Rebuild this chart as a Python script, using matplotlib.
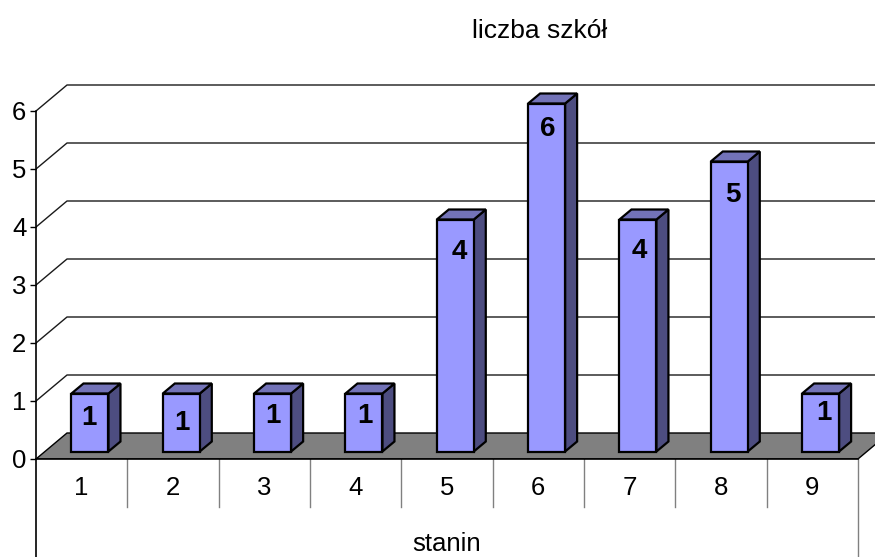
import matplotlib
matplotlib.use('Agg')
import matplotlib.pyplot as plt
from matplotlib.patches import Polygon

plt.rcParams['font.family'] = ['Liberation Sans', 'DejaVu Sans']

stanin = ['1', '2', '3', '4', '5', '6', '7', '8', '9']
liczba_szkol = [1, 1, 1, 1, 4, 6, 4, 5, 1]
y_ticks = [0, 1, 2, 3, 4, 5, 6]

# label placement in the source is uneven, nudge in pixels (right, down from bar top)
label_dx = [-1, 0.5, 0, 1, 4, 1, 1, 4, 3.5]
label_dy = [24.5, 29.5, 22.5, 22.5, 32.5, 25.5, 31.5, 34, 19.5]

W, H = 875, 557
LEFT, BASE = 36, 459     # pixel position of the front axis corner
CAT_W = 91.33            # pixels per category
UNIT = 58.0              # pixels per value
FLOOR_DX, FLOOR_DY = 31, 26
BAR_W = 37
BAR_DX, BAR_DY = 12, 10
BAR_SHIFT, BAR_LIFT = 8.3, 7.5

fig = plt.figure(figsize=(W / 100, H / 100), dpi=100)
ax = fig.add_axes([LEFT / W, (H - BASE) / H, (W - LEFT) / W, BASE / H])
ax.set_xlim(0, (W - LEFT) / CAT_W)
ax.set_ylim(0, BASE / UNIT)
ax.patch.set_alpha(0)

px = lambda d: d / CAT_W
py = lambda d: d / UNIT
n = len(stanin)
right = float(n)

# floor
ax.add_patch(Polygon([(0, 0), (right, 0), (right + px(FLOOR_DX), py(FLOOR_DY)),
                      (px(FLOOR_DX), py(FLOOR_DY))],
                     closed=True, fc='#808080', ec='black', lw=1, zorder=1))

# back wall gridlines and the slanted bits running back from the axis
for v in y_ticks[1:]:
    yb = v + py(FLOOR_DY)
    ax.plot([0, px(FLOOR_DX), right + px(FLOOR_DX)], [v, yb, yb],
            color='#1a1a1a', lw=1, zorder=1.5)

# bars
for i, v in enumerate(liczba_szkol):
    x0 = i + 0.5 + px(BAR_SHIFT) - px(BAR_W) / 2
    x1 = x0 + px(BAR_W)
    y0 = py(BAR_LIFT)
    y1 = y0 + v
    dx, dy = px(BAR_DX), py(BAR_DY)
    ax.add_patch(Polygon([(x1, y0), (x1 + dx, y0 + dy), (x1 + dx, y1 + dy), (x1, y1)],
                         closed=True, fc='#4d4d80', ec='black', lw=1.6, zorder=3))
    ax.add_patch(Polygon([(x0, y1), (x1, y1), (x1 + dx, y1 + dy), (x0 + dx, y1 + dy)],
                         closed=True, fc='#7373b8', ec='black', lw=1.6, zorder=3))
    ax.add_patch(Polygon([(x0, y0), (x1, y0), (x1, y1), (x0, y1)],
                         closed=True, fc='#9999ff', ec='black', lw=1.6, zorder=4))
    ax.annotate(str(v), xy=((x0 + x1) / 2, y1),
                xytext=(label_dx[i] * 0.72, -label_dy[i] * 0.72), textcoords='offset points',
                ha='center', va='center', fontsize=20, fontweight='bold',
                color='black', zorder=5)

# category separators under the floor
for i in range(1, n):
    ax.plot([i, i], [0, py(-48)], color='#808080', lw=1, clip_on=False, zorder=2)
ax.plot([0, 0], [0, py(-(H - BASE))], color='black', lw=1.2, clip_on=False, zorder=2)
ax.plot([right, right], [0, py(-(H - BASE))], color='#808080', lw=1, clip_on=False, zorder=2)

ax.spines['top'].set_visible(False)
ax.spines['right'].set_visible(False)
ax.spines['bottom'].set_bounds(0, right)
ax.spines['left'].set_bounds(0, y_ticks[-1])
ax.spines['left'].set_linewidth(1.2)
ax.spines['bottom'].set_linewidth(1.2)

ax.set_yticks(y_ticks)
ax.set_yticklabels([str(t) for t in y_ticks], fontsize=18.5)
ax.tick_params(axis='y', length=4, width=1, pad=3)
ax.set_xticks([i + 0.5 for i in range(n)])
ax.set_xticklabels(stanin, fontsize=18.5)
ax.tick_params(axis='x', length=0, pad=12)

fig.text(540 / W, 1 - 31.5 / H, 'liczba szkół', ha='center', va='center', fontsize=19)
fig.text(447 / W, 1 - 544 / H, 'stanin', ha='center', va='center', fontsize=18.5)

fig.savefig('out.png', dpi=100)
